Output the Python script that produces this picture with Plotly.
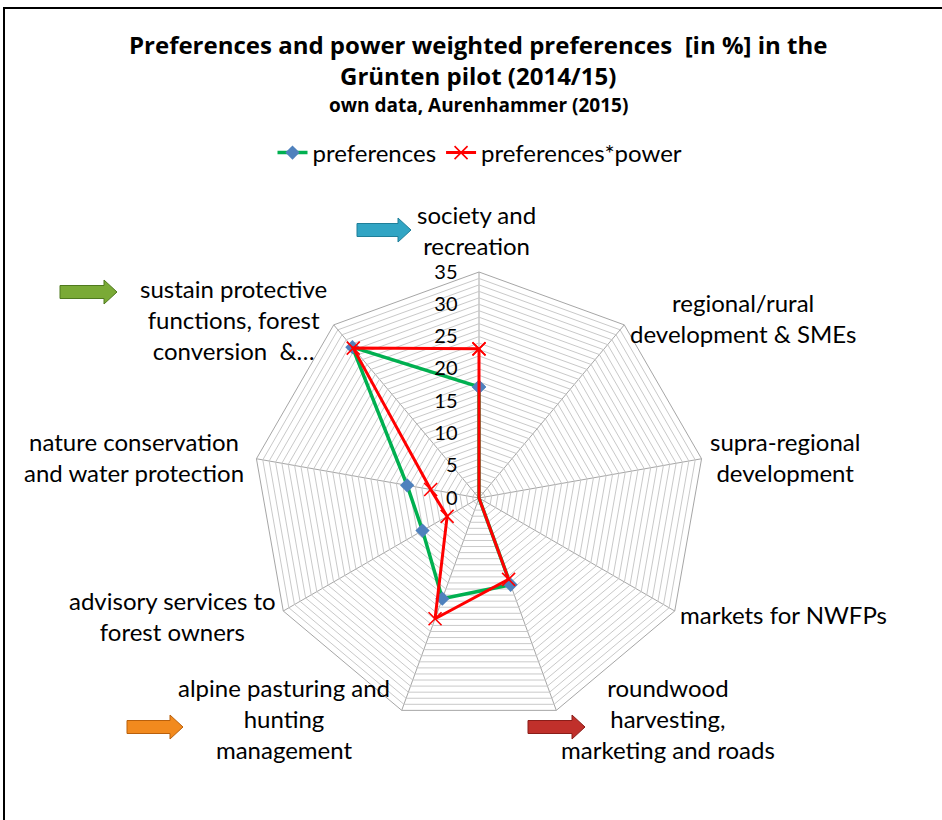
import plotly.graph_objects as go

W, H = 942, 820

categories = [
    "society and recreation",
    "regional/rural development & SMEs",
    "supra-regional development",
    "markets for NWFPs",
    "roundwood harvesting, marketing and roads",
    "alpine pasturing and hunting management",
    "advisory services to forest owners",
    "nature conservation and water protection",
    "sustain protective functions, forest conversion &…",
]
preferences = [17.2, 0, 0, 0, 14.3, 16.6, 10.1, 11.3, 30.5]
preferences_power = [23.1, 0, 0, 0, 13.4, 19.9, 5.7, 7.6, 30.3]

radial_ticks = list(range(0, 36))
radial_ticktext = [str(v) if v % 5 == 0 else "" for v in radial_ticks]

FONT = "Lato"
TFONT = "Open Sans"


def px(x):
    return x / W


def py(y):
    return 1 - y / H


theta_closed = categories + categories[:1]

fig = go.Figure()
fig.add_trace(go.Scatterpolar(
    r=preferences + preferences[:1], theta=theta_closed, mode="lines+markers",
    name="preferences",
    line=dict(color="#00b050", width=3.5),
    marker=dict(symbol="diamond", size=11, color="#4f81bd", line=dict(width=0)),
))
fig.add_trace(go.Scatterpolar(
    r=preferences_power + preferences_power[:1], theta=theta_closed, mode="lines+markers",
    name="preferences*power",
    line=dict(color="#ff0000", width=3),
    marker=dict(symbol="x-thin", size=13, color="#ff0000", line=dict(width=1.6, color="#ff0000")),
))

# polar domain: centre (479,498), radius 226
cx, cy, R = 479, 498, 226
fig.update_layout(
    width=W, height=H,
    margin=dict(l=0, r=0, t=0, b=0),
    paper_bgcolor="white", plot_bgcolor="white",
    font=dict(family=FONT, color="black"),
    polar=dict(
        domain=dict(x=[px(cx - R), px(cx + R)], y=[py(cy + R), py(cy - R)]),
        gridshape="linear",
        bgcolor="white",
        radialaxis=dict(
            range=[0, 35], tickvals=radial_ticks, ticktext=radial_ticktext,
            angle=90, tickangle=90, side="counterclockwise",
            showline=False, gridcolor="#c9c9c9", gridwidth=0.8,
            ticks="outside", ticklen=14, tickcolor="rgba(0,0,0,0)",
            tickfont=dict(size=20, family=FONT, color="black"),
        ),
        angularaxis=dict(
            categoryorder="array", categoryarray=categories,
            rotation=90, direction="clockwise",
            showticklabels=False, ticks="",
            showline=True, linecolor="#a6a6a6", linewidth=1,
            gridcolor="#a6a6a6", gridwidth=1,
        ),
    ),
    legend=dict(
        orientation="h", x=px(480), y=py(153), xanchor="center", yanchor="middle",
        font=dict(size=24, family=FONT), itemwidth=30, bgcolor="rgba(0,0,0,0)",
    ),
)

annotations = [
    dict(text="<b>Preferences and power weighted preferences  [in %] in the</b><br><b>Grünten pilot (2014/15)</b>",
         x=px(478), y=py(60), size=24, f=TFONT),
    dict(text="<b>own data, Aurenhammer (2015)</b>", x=px(478), y=py(105), size=19, f=TFONT),
    dict(text="society and<br>recreation", x=px(476), y=py(230), size=24, f=FONT),
    dict(text="regional/rural<br>development & SMEs", x=px(743), y=py(318), size=24, f=FONT),
    dict(text="supra-regional<br>development", x=px(785), y=py(457), size=24, f=FONT),
    dict(text="markets for NWFPs", x=px(783), y=py(614), size=24, f=FONT),
    dict(text="roundwood<br>harvesting,<br>marketing and roads", x=px(668), y=py(718), size=24, f=FONT),
    dict(text="alpine pasturing and<br>hunting<br>management", x=px(284), y=py(718), size=24, f=FONT),
    dict(text="advisory services to<br>forest owners", x=px(172), y=py(616), size=24, f=FONT),
    dict(text="nature conservation<br>and water protection", x=px(134), y=py(457), size=24, f=FONT),
    dict(text="sustain protective<br>functions, forest<br>conversion  &…", x=px(233), y=py(319), size=24, f=FONT),
]
fig.update_layout(annotations=[
    dict(text=a["text"], x=a["x"], y=a["y"], xref="paper", yref="paper",
         xanchor="center", yanchor="middle", showarrow=False,
         font=dict(size=a["size"], family=a["f"], color="black"))
    for a in annotations
])


def arrow_path(x0, x1, yc, shaft=13, head=24, headlen=13):
    xs = [x0, x1 - headlen, x1 - headlen, x1, x1 - headlen, x1 - headlen, x0]
    ys = [yc - shaft / 2, yc - shaft / 2, yc - head / 2, yc, yc + head / 2, yc + shaft / 2, yc + shaft / 2]
    pts = [f"{px(x)},{py(y)}" for x, y in zip(xs, ys)]
    return "M " + " L ".join(pts) + " Z"


arrows = [
    (357, 411, 230, "#31a5c4", "#1f7f99"),
    (60, 117, 292, "#7aaa36", "#4f7a1e"),
    (127, 183, 727, "#f28a1e", "#b9600c"),
    (528, 585, 727, "#c0302b", "#8a1d19"),
]
shapes = []
for x0, x1, yc, fill, edge in arrows:
    shapes.append(dict(type="path", xref="paper", yref="paper", path=arrow_path(x0, x1, yc),
                       fillcolor=fill, line=dict(color=edge, width=1)))

# outer frame
shapes.append(dict(type="rect", xref="paper", yref="paper",
                   x0=px(4), x1=1.02, y0=-0.02, y1=py(8),
                   line=dict(color="black", width=2), fillcolor="rgba(0,0,0,0)"))
fig.update_layout(shapes=shapes)

fig.write_html("out.html", config={"displayModeBar": False},
               post_script="document.body.style.margin='0';document.body.style.overflow='hidden';")
